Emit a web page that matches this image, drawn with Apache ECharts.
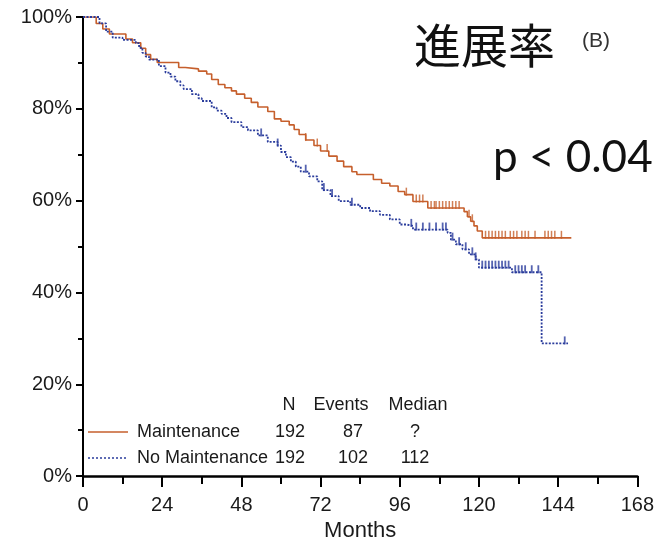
<!DOCTYPE html>
<html>
<head>
<meta charset="utf-8">
<script src="https://cdn.jsdelivr.net/npm/echarts@6/dist/echarts.min.js"></script>
<style>
html,body{margin:0;padding:0;background:#fff;}
#chart{width:657px;height:547px;}
</style>
</head>
<body>
<div id="chart"></div>
<script>
// ---- Data ----
var xTicks = [0, 24, 48, 72, 96, 120, 144, 168];
var yTicks = [0, 20, 40, 60, 80, 100];

// Kaplan-Meier steps: [month, survival %] (drop points)
var maintenance = [
  [0,100],[3,100],[4,98.6],[6,97.4],[8,96.3],[13,95.2],[15,94.4],[17.5,93.2],[19,91.8],[20.5,90.8],
  [22.5,90.1],[29,89.0],[31,88.7],[35,88.2],[37.5,87.6],[39,86.4],[41,85.3],[43,84.6],[45,83.9],
  [46.5,83.2],[49,82.3],[51,81.4],[53,80.4],[56,79.4],[58,77.8],[60,77.3],[62.5,76.5],[64,75.5],
  [65.5,74.4],[67.5,73.2],[70,72.0],[72,70.8],[74.5,69.7],[77,68.6],[79,67.4],[81.5,66.3],[83,65.7],
  [88,64.6],[90.5,63.8],[93,63.2],[95.5,62.0],[97.5,61.3],[100,59.8],[104.5,58.4],[115.5,57.6],
  [116.5,56.5],[117.5,55.5],[118.5,54.5],[119.5,53.4],[121,51.9],[148,51.9]
];
var noMaintenance = [
  [0,100],[3,100],[5,98.6],[7,96.8],[9,95.5],[12,95.0],[16,94.3],[17,93.3],[18,92.2],[19,91.4],
  [20,90.7],[23,89.3],[25,87.9],[26.5,87.0],[28,86.0],[29.5,85.1],[30.5,84.3],[33,83.2],[35,82.3],
  [36,81.7],[39,80.3],[40.5,79.6],[42,78.9],[43.5,78.0],[45,77.1],[48,76.0],[50,75.3],[53,74.2],
  [56,72.8],[59,72.0],[60,70.6],[61.5,69.5],[63,68.5],[64.5,67.4],[66,66.3],[68.5,65.3],[71,64.2],
  [72.5,62.3],[75,61.0],[77.5,59.9],[81,59.1],[84,58.4],[87,57.7],[90,56.9],[93,55.9],[96,54.8],
  [98,54.5],[100,53.7],[110.5,53.0],[111.5,51.5],[113,50.5],[115,49.4],[117,48.3],[119,47.2],
  [120,45.4],[130,44.4],[139,28.9],[147,28.9]
];

// censoring times (months)
var maintenanceCensor = [67.5,71,74,98,101,102,103,105.5,106.5,107,108,109,110,111,112,113,114,
  117,118,122,123,124,125,126,127,128,129.5,130.5,131.5,133,134,135,137,140,141,142,143,145];
var noMaintenanceCensor = [54,59,67.5,73,75.5,81.5,99.5,101,103,105,107,109,110,112,114,116,118,
  119,121,122,123,124,125,126,127,128,129,131,132,133,134,136,138,146];

// legend table
var legendHeader = ['N', 'Events', 'Median'];
var groupNames = ['Maintenance', 'No Maintenance'];
var groupN = ['192', '192'];
var groupEvents = ['87', '102'];
var groupMedian = ['?', '112'];

var titleText = '進展率';
var panelText = '(B)';
var pText = 'p < 0.04';
var xName = 'Months';

// ---- helpers ----
function stepValue(curve, t) {
  var v = curve[0][1];
  for (var i = 0; i < curve.length; i++) {
    if (curve[i][0] <= t) v = curve[i][1]; else break;
  }
  return v;
}
function censorPoints(curve, times) {
  return times.map(function (t) { return [t, stepValue(curve, t)]; });
}

var ORANGE = '#c65f2c';
var BLUE = '#2a3c9c';
var TXT = '#1a1a1a';
var FONT = '"Liberation Sans", Arial, Helvetica, sans-serif';

var chart = echarts.init(document.getElementById('chart'), null, {renderer: 'canvas'});

var legendFont = 18;
var graphic = [
  {type:'text', left:414, top:22, style:{text:titleText, font:'400 47px "Noto Sans CJK JP"', fill:'#111'}},
  {type:'text', left:582, top:31, style:{text:panelText, font:'400 21px ' + FONT, fill:'#333'}},
  {type:'text', left:493, top:136, style:{text:pText, font:'400 44px Lato, "Noto Sans", sans-serif', fill:'#111'}},
  // legend header
  {type:'text', x:289, y:405, style:{text:legendHeader[0], font:legendFont+'px '+FONT, fill:TXT, align:'center', verticalAlign:'middle'}},
  {type:'text', x:341, y:405, style:{text:legendHeader[1], font:legendFont+'px '+FONT, fill:TXT, align:'center', verticalAlign:'middle'}},
  {type:'text', x:418, y:405, style:{text:legendHeader[2], font:legendFont+'px '+FONT, fill:TXT, align:'center', verticalAlign:'middle'}},
  // row lines
  {type:'line', shape:{x1:88, y1:432, x2:128, y2:432}, style:{stroke:ORANGE, lineWidth:1.5}},
  {type:'line', shape:{x1:88, y1:458, x2:128, y2:458}, style:{stroke:BLUE, lineWidth:1.5, lineDash:[2,2]}}
];
for (var r = 0; r < 2; r++) {
  var yy = r === 0 ? 432 : 458;
  graphic.push({type:'text', x:137, y:yy, style:{text:groupNames[r], font:legendFont+'px '+FONT, fill:TXT, align:'left', verticalAlign:'middle'}});
  graphic.push({type:'text', x:290, y:yy, style:{text:groupN[r], font:legendFont+'px '+FONT, fill:TXT, align:'center', verticalAlign:'middle'}});
  graphic.push({type:'text', x:353, y:yy, style:{text:groupEvents[r], font:legendFont+'px '+FONT, fill:TXT, align:'center', verticalAlign:'middle'}});
  graphic.push({type:'text', x:415, y:yy, style:{text:groupMedian[r], font:legendFont+'px '+FONT, fill:TXT, align:'center', verticalAlign:'middle'}});
}

chart.setOption({
  animation: false,
  backgroundColor: '#fff',
  grid: {left: 83, right: 14, top: 17, bottom: 66, containLabel: false},
  xAxis: {
    type: 'value', min: xTicks[0], max: xTicks[xTicks.length-1], interval: 24,
    name: xName, nameLocation: 'middle', nameGap: 43,
    nameTextStyle: {fontSize: 22, color: TXT, fontFamily: FONT},
    axisLine: {show: true, onZero: false, lineStyle: {color: '#000', width: 2.5}},
    axisTick: {show: true, inside: false, length: 11, lineStyle: {color: '#000', width: 2}},
    minorTick: {show: true, splitNumber: 2, length: 8, lineStyle: {color: '#000', width: 2}},
    axisLabel: {fontSize: 20, color: TXT, fontFamily: FONT, margin: 19},
    splitLine: {show: false}
  },
  yAxis: {
    type: 'value', min: yTicks[0], max: yTicks[yTicks.length-1], interval: 20,
    axisLine: {show: true, onZero: false, lineStyle: {color: '#000', width: 2}},
    axisTick: {show: true, inside: false, length: 7, lineStyle: {color: '#000', width: 2}},
    minorTick: {show: true, splitNumber: 2, length: 5, lineStyle: {color: '#000', width: 2}},
    axisLabel: {fontSize: 20, color: TXT, fontFamily: FONT, margin: 11, formatter: '{value}%'},
    splitLine: {show: false}
  },
  graphic: graphic,
  series: [
    {
      name: 'Maintenance', type: 'line', step: 'end', data: maintenance, showSymbol: false,
      lineStyle: {color: ORANGE, width: 1.6}, z: 3
    },
    {
      name: 'No Maintenance', type: 'line', step: 'end', data: noMaintenance, showSymbol: false,
      lineStyle: {color: BLUE, width: 1.8, type: [2, 1.5]}, z: 3
    },
    {
      name: 'Maintenance censored', type: 'scatter', data: censorPoints(maintenance, maintenanceCensor),
      symbol: 'rect', symbolSize: [1.5, 8], symbolOffset: [0, -3],
      itemStyle: {color: ORANGE}, z: 4
    },
    {
      name: 'No Maintenance censored', type: 'scatter', data: censorPoints(noMaintenance, noMaintenanceCensor),
      symbol: 'rect', symbolSize: [1.8, 8], symbolOffset: [0, -3],
      itemStyle: {color: BLUE}, z: 4
    }
  ]
});
</script>
</body>
</html>
